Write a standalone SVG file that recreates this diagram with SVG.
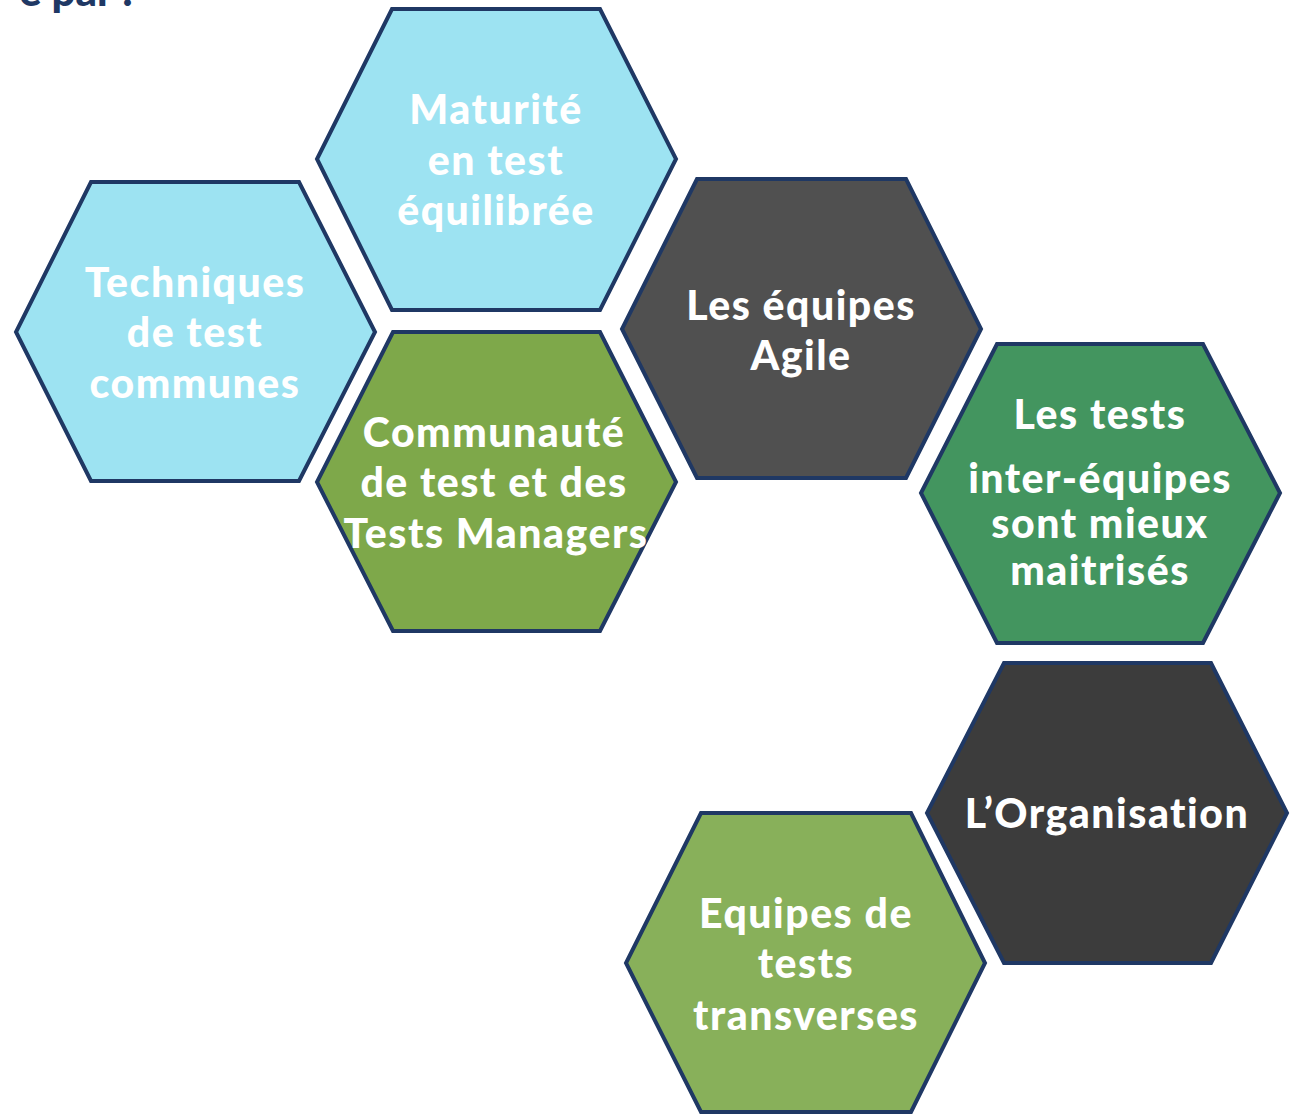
<svg xmlns="http://www.w3.org/2000/svg" width="1291" height="1115" viewBox="0 0 1291 1115">
<style>
.hex{stroke:#1F3864;stroke-width:4;stroke-linejoin:miter}
.t{font-family:Lato,"Open Sans","Liberation Sans",sans-serif;font-weight:900;font-size:41px;letter-spacing:1.5px;fill:#FFFFFF;text-anchor:middle}
.title{font-family:Lato,"Liberation Sans",sans-serif;font-weight:900;font-size:42px;fill:#1F3864}
</style>
<rect width="1291" height="1115" fill="#FFFFFF"/>
<text class="title" x="133" y="6" text-anchor="end">e par :</text>
<g id="connectors"></g>
<g id="node-maturite">
<polygon class="hex" fill="#9DE3F2" points="392,9 600,9 676,159 600,310 392,310 317,159"/>
<text class="t" x="496" y="124">Maturité</text>
<text class="t" x="496" y="175">en test</text>
<text class="t" x="496" y="225">équilibrée</text>
</g>
<g id="node-techniques">
<polygon class="hex" fill="#9DE3F2" points="91,182 299,182 375,332 299,481 91,481 16,332"/>
<text class="t" x="195" y="297">Techniques</text>
<text class="t" x="195" y="347">de test</text>
<text class="t" x="195" y="398">communes</text>
</g>
<g id="node-communaute">
<polygon class="hex" fill="#7EA84A" points="393,332 600,332 676,482 600,631 393,631 317,482"/>
<text class="t" x="494" y="447">Communauté</text>
<text class="t" x="494" y="497">de test et des</text>
<text class="t" x="496" y="548">Tests Managers</text>
</g>
<g id="node-agile">
<polygon class="hex" fill="#505050" points="697,179 906,179 981,329 906,478 697,478 622,329"/>
<text class="t" x="801" y="320">Les équipes</text>
<text class="t" x="801" y="370">Agile</text>
</g>
<g id="node-tests">
<polygon class="hex" fill="#43955F" points="997,344 1203,344 1280,493 1203,643 997,643 921,493"/>
<text class="t" x="1100" y="429">Les tests</text>
<text class="t" x="1100" y="493">inter-équipes</text>
<text class="t" x="1100" y="538">sont mieux</text>
<text class="t" x="1100" y="585">maitrisés</text>
</g>
<g id="node-organisation">
<polygon class="hex" fill="#3C3C3C" points="1004,663 1211,663 1287,813 1211,963 1004,963 927,813"/>
<text class="t" x="1107" y="828">L’Organisation</text>
</g>
<g id="node-equipes">
<polygon class="hex" fill="#88B05A" points="701,813 911,813 985,963 911,1112 701,1112 626,963"/>
<text class="t" x="806" y="928">Equipes de</text>
<text class="t" x="806" y="978">tests</text>
<text class="t" x="806" y="1030">transverses</text>
</g>
</svg>
